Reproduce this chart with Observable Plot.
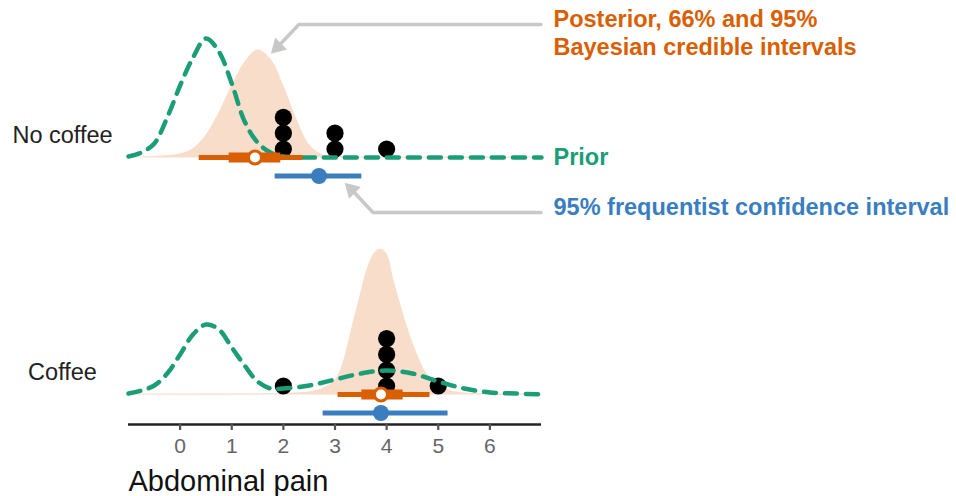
<!DOCTYPE html>
<html>
<head>
<meta charset="utf-8">
<script src="https://cdn.jsdelivr.net/npm/d3@7"></script>
<script src="https://cdn.jsdelivr.net/npm/@observablehq/plot@0.6"></script>
<style>
  body { margin: 0; background: #fff; }
  #chart svg { display: block; }
</style>
</head>
<body>
<div id="chart"></div>
<script>
// ---------- data ----------
const groups = ["No coffee", "Coffee"];
const xTicks = [0, 1, 2, 3, 4, 5, 6];

// observed pain scores (dot plot)
const obsNoCoffee = [2, 2, 2, 3, 3, 4];
const obsCoffee = [2, 4, 4, 4, 4, 5];

// prior density
const priorNoCoffeeX = [-1, -0.75, -0.5, -0.25, 0, 0.25, 0.5, 0.75, 1, 1.25, 1.5, 1.75, 2, 2.5, 3, 4, 5, 6, 7];
const priorNoCoffeeY = [0.01, 0.05, 0.14, 0.40, 0.72, 1.00, 1.19, 1.06, 0.74, 0.36, 0.15, 0.05, 0.01, 0, 0, 0, 0, 0, 0];
const priorCoffeeX = [-1, -0.75, -0.5, -0.25, 0, 0.25, 0.5, 0.75, 1, 1.25, 1.5, 1.75, 2, 2.5, 3, 3.5, 4, 4.5, 5, 5.5, 6, 6.5, 7];
const priorCoffeeY = [0.01, 0.04, 0.09, 0.21, 0.40, 0.60, 0.70, 0.65, 0.47, 0.29, 0.13, 0.06, 0.06, 0.09, 0.15, 0.21, 0.24, 0.21, 0.13, 0.06, 0.02, 0.01, 0.00];

// posterior density
const postNoCoffeeX = [-1, -0.5, 0, 0.25, 0.5, 0.75, 1, 1.25, 1.5, 1.75, 2, 2.25, 2.5, 2.75, 3, 4, 7];
const postNoCoffeeY = [0, 0.005, 0.03, 0.08, 0.21, 0.43, 0.70, 0.94, 1.07, 0.98, 0.71, 0.38, 0.12, 0.02, 0.005, 0, 0];
const postCoffeeX = [-1, 2, 2.5, 2.75, 3, 3.125, 3.25, 3.375, 3.5, 3.625, 3.75, 3.875, 4, 4.125, 4.25, 4.375, 4.5, 4.625, 4.75, 5, 5.25, 5.5, 6, 7];
const postCoffeeY = [0, 0.005, 0.02, 0.05, 0.13, 0.25, 0.47, 0.74, 0.99, 1.24, 1.39, 1.45, 1.40, 1.15, 0.92, 0.70, 0.51, 0.35, 0.22, 0.09, 0.03, 0.01, 0, 0];

// interval estimates, per group (No coffee, Coffee)
const bayesMean = [1.45, 3.89];
const cri66Lo = [0.95, 3.52];
const cri66Hi = [1.95, 4.32];
const cri95Lo = [0.37, 3.06];
const cri95Hi = [2.38, 4.84];
const freqMean = [2.69, 3.89];
const ciLo = [1.84, 2.77];
const ciHi = [3.52, 5.19];

// annotation arrows (data units, No coffee panel)
const arrowPostX = [6.99, 2.30, 1.89];
const arrowPostY = [1.33, 1.33, 1.106];
const arrowCiX = [6.99, 3.735, 3.32];
const arrowCiY = [-0.55, -0.55, -0.32];

// ---------- styling constants ----------
const ORANGE = "#D95F02";
const GREEN = "#1B9E77";
const BLUE = "#3A7EBF";
const PEACH = "#F8DDCA";
const GREY = "#C8C8C8";
const DOT_BASE = 0.085, DOT_STEP = 0.158;
const CI_Y = -0.185;
const AXIS_Y = -0.3;
const TICK_LEN = 0.06;

// ---------- tables ----------
const toRows = (xs, ys, group) => xs.map((x, i) => ({group, x, y: ys[i]}));
const prior = [...toRows(priorNoCoffeeX, priorNoCoffeeY, "No coffee"), ...toRows(priorCoffeeX, priorCoffeeY, "Coffee")];
const posterior = [...toRows(postNoCoffeeX, postNoCoffeeY, "No coffee"), ...toRows(postCoffeeX, postCoffeeY, "Coffee")];

function stack(obs, group) {
  const count = new Map();
  return obs.map(v => {
    const k = count.get(v) ?? 0;
    count.set(v, k + 1);
    return {group, x: v, level: k};
  });
}
const dots = [...stack(obsNoCoffee, "No coffee"), ...stack(obsCoffee, "Coffee")];

const intervals = groups.map((group, i) => ({
  group, bayesMean: bayesMean[i], cri66Lo: cri66Lo[i], cri66Hi: cri66Hi[i],
  cri95Lo: cri95Lo[i], cri95Hi: cri95Hi[i], freqMean: freqMean[i], ciLo: ciLo[i], ciHi: ciHi[i]
}));

const arrows = [
  ...arrowPostX.map((x, i) => ({id: "post", group: "No coffee", x, y: arrowPostY[i]})),
  ...arrowCiX.map((x, i) => ({id: "ci", group: "No coffee", x, y: arrowCiY[i]}))
];
const arrowHeads = [
  {group: "No coffee", x: arrowPostX[2], y: arrowPostY[2], angle: 225},
  {group: "No coffee", x: arrowCiX[2], y: arrowCiY[2], angle: -45}
];

const FONT = "'Liberation Sans', Arial, Helvetica, sans-serif";
const bottomRow = () => "Coffee";

const plot = Plot.plot({
  width: 956,
  height: 496,
  marginLeft: 128,
  marginRight: 415,
  marginTop: 7,
  marginBottom: 72,
  style: {fontFamily: FONT, fontSize: "21px", background: "#fff", overflow: "visible"},
  x: {domain: [-1, 7], axis: null},
  y: {domain: [-0.3, 1.5], axis: null},
  fy: {domain: groups, axis: null, paddingInner: 0.2405, paddingOuter: 0, round: false},
  facet: {marginTop: 0, marginBottom: 0, marginLeft: 0, marginRight: 0},
  marks: [
    // posterior density
    Plot.areaY(posterior, {x: "x", y: "y", fy: "group", curve: "catmull-rom", fill: PEACH, stroke: PEACH, strokeWidth: 1.2}),
    // observations
    Plot.dot(dots, {x: "x", y: d => DOT_BASE + DOT_STEP * d.level, fy: "group", r: 8.6, fill: "#000"}),
    // prior density
    Plot.line(prior, {x: "x", y: "y", fy: "group", curve: "catmull-rom", stroke: GREEN, strokeWidth: 4.5, strokeDasharray: "12,9"}),
    // Bayesian credible intervals
    Plot.ruleY(intervals, {x1: "cri95Lo", x2: "cri95Hi", y: () => 0, fy: "group", stroke: ORANGE, strokeWidth: 5}),
    Plot.ruleY(intervals, {x1: "cri66Lo", x2: "cri66Hi", y: () => 0, fy: "group", stroke: ORANGE, strokeWidth: 10}),
    // frequentist CI
    Plot.ruleY(intervals, {x1: "ciLo", x2: "ciHi", y: () => CI_Y, fy: "group", stroke: BLUE, strokeWidth: 5}),
    Plot.dot(intervals, {x: "bayesMean", y: () => 0, fy: "group", r: 6.5, fill: "#fff", stroke: ORANGE, strokeWidth: 3}),
    Plot.dot(intervals, {x: "freqMean", y: () => CI_Y, fy: "group", r: 8, fill: BLUE}),
    // annotation arrows
    Plot.line(arrows, {x: "x", y: "y", z: "id", fy: "group", stroke: GREY, strokeWidth: 3.5, strokeLinejoin: "miter"}),
    Plot.dot(arrowHeads, {x: "x", y: "y", fy: "group", symbol: "triangle", r: 6.2, fill: GREY, rotate: "angle"}),
    // annotation labels
    Plot.text([{group: "No coffee", label: "Posterior, 66% and 95%\nBayesian credible intervals"}], {
      fy: "group", text: "label", y: () => 1.25, frameAnchor: "right", dx: 12, textAnchor: "start",
      lineAnchor: "middle", lineHeight: 1.19, fontSize: 23.5, fontWeight: "bold", fill: ORANGE
    }),
    Plot.text([{group: "No coffee", label: "Prior"}], {
      fy: "group", text: "label", y: () => 0, frameAnchor: "right", dx: 12, textAnchor: "start",
      lineAnchor: "middle", fontSize: 23.5, fontWeight: "bold", fill: GREEN
    }),
    Plot.text([{group: "No coffee", label: "95% frequentist confidence interval"}], {
      fy: "group", text: "label", y: () => -0.50, frameAnchor: "right", dx: 12, textAnchor: "start",
      lineAnchor: "middle", fontSize: 23.5, fontWeight: "bold", fill: BLUE
    }),
    // row labels
    Plot.text(groups, {fy: d => d, text: d => d, y: () => 0.225, frameAnchor: "left", dx: -66, textAnchor: "middle", lineAnchor: "middle", fontSize: 23.5, fill: "#222"}),
    // x axis: line, ticks, labels, title
    Plot.ruleY(["Coffee"], {fy: d => d, y: () => AXIS_Y, stroke: "#222", strokeWidth: 2.5}),
    Plot.ruleX(xTicks, {x: d => d, y1: () => AXIS_Y, y2: () => AXIS_Y - TICK_LEN, fy: bottomRow, stroke: "#555", strokeWidth: 2.2}),
    Plot.text(xTicks, {x: d => d, y: () => AXIS_Y, dy: 22, fy: bottomRow, text: d => String(d), lineAnchor: "middle", fontSize: 21, fill: "#666"}),
    Plot.text(["Coffee"], {fy: d => d, text: () => "Abdominal pain", frameAnchor: "bottom-left", dy: 57, textAnchor: "start", lineAnchor: "middle", fontSize: 29, fill: "#111"})
  ]
});

document.getElementById("chart").appendChild(plot);
</script>
</body>
</html>
